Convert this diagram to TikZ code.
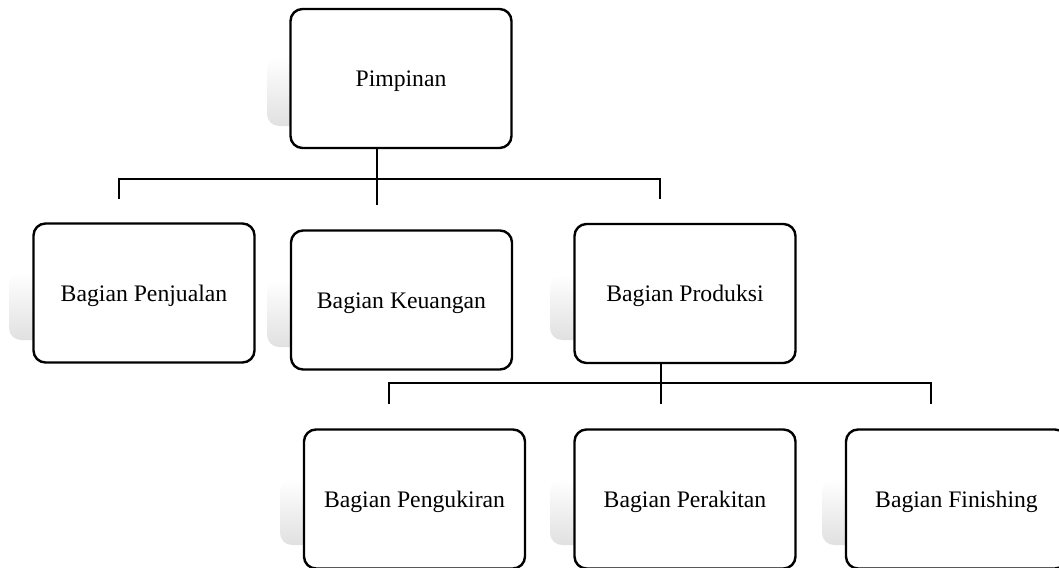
\documentclass[tikz,border=0pt]{standalone}
\usepackage{fontspec}
\setmainfont{Liberation Serif}
\begin{document}
\begin{tikzpicture}[x=1pt,y=-1pt,
  orgbox/.style={draw=black, line width=2.4pt, rounded corners=12pt, fill=white,
    minimum width=221pt, minimum height=139pt, inner sep=0pt,
    text height=16pt, text depth=0pt,
    font=\fontsize{23.7}{28}\selectfont},
  conn/.style={draw=black, line width=1.1pt},
  shadowbox/.style={top color=white, bottom color=black!12, draw=none, rounded corners=12pt}]
\useasboundingbox (0,0) rectangle (1059,567);
% shadows
\shade[shadowbox] (267,57) rectangle (320,126);
\shade[shadowbox] (9,272) rectangle (60,340);
\shade[shadowbox] (267,280) rectangle (320,347);
\shade[shadowbox] (550,274) rectangle (600,340);
\shade[shadowbox] (280,479) rectangle (330,545);
\shade[shadowbox] (550,479) rectangle (600,545);
\shade[shadowbox] (822,479) rectangle (870,545);
% boxes
\node[orgbox] (pim) at (401,78.5) {Pimpinan};
\node[orgbox] (pen) at (144,293) {Bagian Penjualan};
\node[orgbox] (keu) at (401.5,300) {Bagian Keuangan};
\node[orgbox] (pro) at (685,293.5) {Bagian Produksi};
\node[orgbox] (ukr) at (414.5,499) {Bagian Pengukiran};
\node[orgbox] (rak) at (685,499) {Bagian Perakitan};
\node[orgbox] (fin) at (956.5,499) {Bagian Finishing};
% connector coordinates
\coordinate (j1) at (377,179);
\coordinate (j1l) at (119,179);
\coordinate (j1r) at (660,179);
\coordinate (e1) at (377,205);
\coordinate (e1l) at (119,199);
\coordinate (e1r) at (660,199);
\coordinate (j2) at (661,383);
\coordinate (j2l) at (389,383);
\coordinate (j2r) at (931,383);
\coordinate (e2) at (661,404);
\coordinate (e2l) at (389,404);
\coordinate (e2r) at (931,404);
% connectors
\draw[conn] (pim.south -| j1) -- (e1);
\draw[conn] (e1l) -- (j1l) -- (j1r) -- (e1r);
\draw[conn] (pro.south -| j2) -- (e2);
\draw[conn] (e2l) -- (j2l) -- (j2r) -- (e2r);
\end{tikzpicture}
\end{document}
